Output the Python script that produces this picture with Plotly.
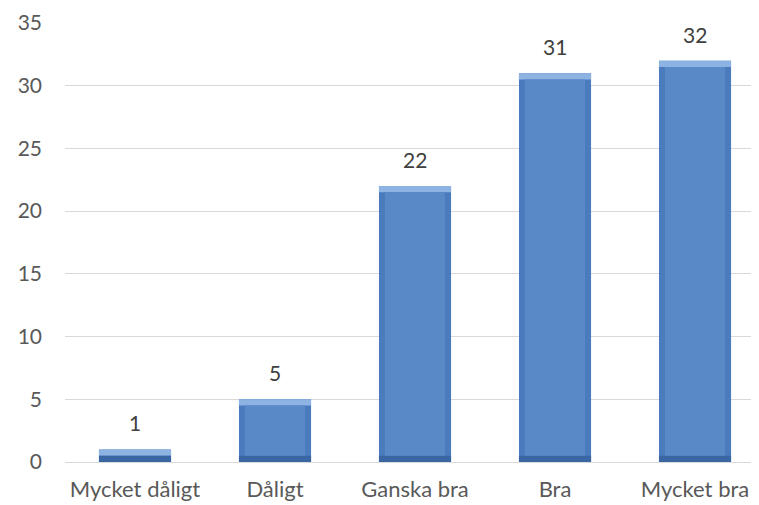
import plotly.graph_objects as go

categories = ["Mycket dåligt", "Dåligt", "Ganska bra", "Bra", "Mycket bra"]
values = [1, 5, 22, 31, 32]
y_ticks = [0, 5, 10, 15, 20, 25, 30, 35]

BEVEL = 0.5       # bevel depth in data units (visual style)
W_OUT = 0.515
W_IN = 0.43
FONT = "Lato"

fig = go.Figure()
# base (sides)
fig.add_trace(go.Bar(x=categories, y=values, width=W_OUT, marker=dict(color="#4A7BBD", line=dict(width=0)),
                     hoverinfo="skip", showlegend=False))
# top bevel (light)
fig.add_trace(go.Bar(x=categories, y=[BEVEL] * len(values), base=[v - BEVEL for v in values], width=W_OUT,
                     marker=dict(color="#8DB3E3", line=dict(width=0)), hoverinfo="skip", showlegend=False))
# bottom bevel (dark)
fig.add_trace(go.Bar(x=categories, y=[BEVEL] * len(values), base=[0] * len(values), width=W_OUT,
                     marker=dict(color="#3A66A3", line=dict(width=0)), hoverinfo="skip", showlegend=False))
# inner face
fig.add_trace(go.Bar(x=categories, y=[v - 2 * BEVEL for v in values], base=[BEVEL] * len(values), width=W_IN,
                     marker=dict(color="#5A89C8", line=dict(width=0)), showlegend=False))

for c, v in zip(categories, values):
    fig.add_annotation(x=c, y=v, text=str(v), showarrow=False, yanchor="bottom", yshift=12,
                       font=dict(family=FONT, size=21, color="#404040"))

fig.update_layout(
    width=751, height=497,
    margin=dict(l=57, r=0, t=15, b=43),
    paper_bgcolor="white", plot_bgcolor="white",
    barmode="overlay",
    font=dict(family=FONT, size=21, color="#595959"),
    xaxis=dict(range=[-0.5, 4.457], showgrid=False, showline=False, ticks="",
               ticklabelstandoff=12, tickfont=dict(size=22, color="#595959")),
    yaxis=dict(range=[0, 35], tickvals=y_ticks, showgrid=True, gridcolor="#D9D9D9", gridwidth=1,
               zeroline=True, zerolinecolor="#D9D9D9", zerolinewidth=1, showline=False, ticks="",
               ticklabelstandoff=22, tickfont=dict(size=21, color="#595959")),
)

fig.write_html("out.html")
